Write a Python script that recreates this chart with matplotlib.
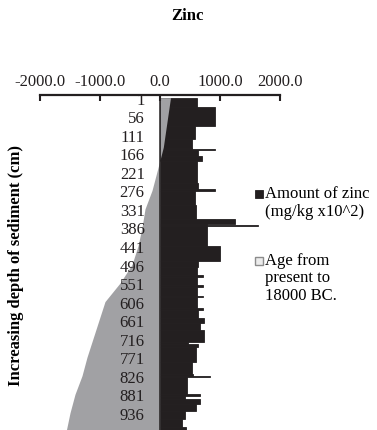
import matplotlib
matplotlib.use("Agg")
import matplotlib.pyplot as plt
from matplotlib.patches import Rectangle

plt.rcParams['font.family'] = ['Liberation Serif', 'DejaVu Serif']

# depth labels shown on the category axis (cm)
depth_labels = [1, 56, 111, 166, 221, 276, 331, 386, 441, 496, 551, 606,
                661, 716, 771, 826, 881, 936]

# zinc: start depth, end depth, value
zinc_start = [1, 30, 85, 124, 150, 153, 157, 174, 190, 255, 272, 278, 318,
              362, 376, 378, 382, 440, 486, 503, 528, 532, 558, 562, 588,
              592, 626, 630, 655, 670, 690, 725, 731, 740, 785, 820, 826,
              829, 880, 886, 895, 910, 932, 953, 978]
zinc_end = zinc_start[1:] + [987]
zinc = [620, 920, 580, 530, 530, 920, 630, 700, 610, 640, 917, 585, 595,
        1250, 780, 1633, 780, 1000, 640, 620, 720, 620, 720, 620, 720,
        620, 720, 640, 733, 667, 733, 470, 640, 594, 528, 550, 833,
        444, 667, 420, 667, 594, 417, 361, 440]

# age curve, read at points along its edge
age_depth = [1, 148, 186, 276, 331, 386, 441, 496, 551, 606, 661, 716,
             771, 826, 881, 936, 987]
age = [175, 55, 0, -133, -250, -300, -367, -467, -667, -917, -1017, -1117,
       -1217, -1300, -1417, -1500, -1560]

black = '#231f20'
grey = '#a1a1a4'
fs = 12

fig = plt.figure(figsize=(3.77, 4.31), dpi=100)
ax = fig.add_axes([40 / 377, 0.0, 240 / 377, 1 - 96 / 431])

heights = [e - s for s, e in zip(zinc_start, zinc_end)]
ax.barh(zinc_start, zinc, height=heights, align='edge', color=black,
        edgecolor=black, linewidth=0.6, zorder=1.0)
ax.fill_betweenx(age_depth, 0, age, color=grey, linewidth=0, zorder=1.2)

ax.set_xlim(-2000, 2000)
ax.set_ylim(987, -7)

ax.xaxis.tick_top()
ax.set_xticks([-2000, -1000, 0, 1000, 2000])
ax.set_xticklabels(['-2000.0', '-1000.0', '0.0', '1000.0', '2000.0'])
ax.tick_params(axis='x', direction='in', length=4, width=1.5, pad=4,
               labelsize=fs, colors=black)

ax.set_yticks(depth_labels)
ax.set_yticklabels([str(d) for d in depth_labels])
ax.tick_params(axis='y', length=0, pad=11, labelsize=fs, colors=black)

for s in ['right', 'bottom']:
    ax.spines[s].set_visible(False)
ax.spines['top'].set_linewidth(1.6)
ax.spines['top'].set_color(black)
ax.spines['left'].set_position(('data', 0))
ax.spines['left'].set_linewidth(1.1)
ax.spines['left'].set_color(black)
ax.patch.set_alpha(0)

fig.text(188 / 377, 1 - 16 / 431, 'Zinc', ha='center', va='center',
         fontsize=fs, fontweight='bold')
fig.text(16 / 377, 1 - 265 / 431, 'Increasing depth of sediment (cm)',
         rotation=90, ha='center', va='center', fontsize=fs,
         fontweight='bold')

# legend drawn by hand
fig.patches.append(Rectangle((255 / 377, 1 - 199 / 431), 8 / 377, 8 / 431,
                             transform=fig.transFigure, facecolor=black,
                             edgecolor=black, linewidth=0.6))
fig.text(265 / 377, 1 - 186 / 431, 'Amount of zinc\n(mg/kg x10^2)',
         ha='left', va='top', fontsize=fs, linespacing=1.2)
fig.patches.append(Rectangle((255 / 377, 1 - 266 / 431), 8 / 377, 8 / 431,
                             transform=fig.transFigure, facecolor='#ececec',
                             edgecolor='#8c8c8c', linewidth=1.0))
fig.text(265 / 377, 1 - 253 / 431, 'Age from\npresent to\n18000 BC.',
         ha='left', va='top', fontsize=fs, linespacing=1.12)

fig.savefig('out.png', dpi=100)
